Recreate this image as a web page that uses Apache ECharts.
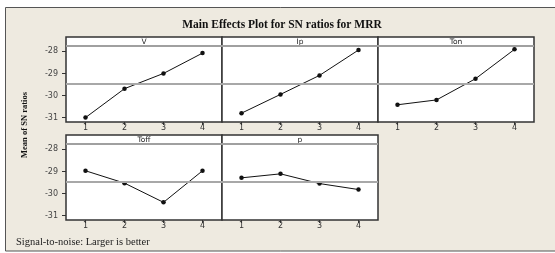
<!DOCTYPE html>
<html>
<head>
<meta charset="utf-8">
<script src="https://cdn.jsdelivr.net/npm/echarts@6/dist/echarts.min.js"></script>
<style>
  html, body { margin: 0; padding: 0; background: #fff; }
  #container { width: 555px; height: 253px; }
</style>
</head>
<body>
<div id="container"></div>
<script>
var levels = ['1', '2', '3', '4'];
var factors = ['V', 'Ip', 'Ton', 'Toff', 'p'];
var V = [-31.0, -29.69, -29.0, -28.08];
var Ip = [-30.8, -29.95, -29.09, -27.94];
var Ton = [-30.42, -30.2, -29.24, -27.91];
var Toff = [-28.97, -29.53, -30.4, -28.97];
var p = [-29.29, -29.11, -29.55, -29.82];
var seriesData = [V, Ip, Ton, Toff, p];
var grandMean = -29.46;
var yTicks = [-31, -30, -29, -28];

var dom = document.getElementById('container');
var myChart = echarts.init(dom, null, { renderer: 'canvas' });

// panel positions (px)
var panels = [
    { left: 66, top: 37 },
    { left: 222, top: 37 },
    { left: 378, top: 37 },
    { left: 66, top: 135 },
    { left: 222, top: 135 }
];
var pw = 156, ph = 85;

var grids = [], xAxes = [], yAxes = [], series = [], titles = [], graphics = [];

graphics.push({
    type: 'rect', z: -10,
    shape: { x: 5.5, y: 7.5, width: 600, height: 243.5 },
    style: { fill: '#eeeae0', stroke: '#555', lineWidth: 1 }
});

titles.push({
    text: 'Main Effects Plot for SN ratios for MRR',
    left: 282, top: 19, textAlign: 'center', padding: 0,
    textStyle: { fontFamily: 'Liberation Serif', fontWeight: 'bold', fontSize: 11.5, color: '#111' }
});
titles.push({
    text: 'Signal-to-noise: Larger is better',
    left: 16, top: 236.5, padding: 0,
    textStyle: { fontFamily: 'Liberation Serif', fontWeight: 'normal', fontSize: 10.5, color: '#222' }
});

panels.forEach(function (pn, i) {
    var leftCol = (i === 0 || i === 3);
    grids.push({
        left: pn.left, top: pn.top, width: pw, height: ph,
        show: true, backgroundColor: '#fff', borderColor: '#333', borderWidth: 1.5,
        containLabel: false
    });
    xAxes.push({
        gridIndex: i, type: 'category', data: levels, boundaryGap: true,
        axisLine: { show: false },
        axisTick: { show: true, alignWithLabel: true, inside: false, length: 3, lineStyle: { color: '#333' } },
        axisLabel: { margin: 2, fontSize: 8, color: '#333', fontFamily: 'DejaVu Sans' },
        splitLine: { show: false }
    });
    yAxes.push({
        gridIndex: i, type: 'value', min: -31.2, max: -27.35,
        axisLine: { show: false },
        axisTick: { show: leftCol, length: 4, customValues: yTicks, lineStyle: { color: '#333' } },
        axisLabel: { show: leftCol, customValues: yTicks, margin: 8, fontSize: 8, color: '#444', fontFamily: 'DejaVu Sans' },
        splitLine: { show: false }
    });
    series.push({
        type: 'line', xAxisIndex: i, yAxisIndex: i,
        data: seriesData[i],
        symbol: 'circle', symbolSize: 4.5,
        lineStyle: { color: '#111', width: 1 },
        itemStyle: { color: '#111' },
        silent: true, animation: false,
        markLine: {
            silent: true, symbol: 'none', label: { show: false },
            lineStyle: { color: '#a8a8a8', width: 2, type: 'solid' },
            data: [{ yAxis: grandMean }]
        }
    });
    // strip header label + divider
    graphics.push({
        type: 'text', z: 100, x: pn.left + pw / 2, y: pn.top + 4.8,
        style: {
            text: factors[i], fill: '#222', font: '7.5px "DejaVu Sans"',
            align: 'center', verticalAlign: 'middle'
        }
    });
    graphics.push({
        type: 'line', z: 100,
        shape: { x1: pn.left, y1: pn.top + 9, x2: pn.left + pw, y2: pn.top + 9 },
        style: { stroke: '#a0a0a0', lineWidth: 2 }
    });
});

graphics.push({
    type: 'text', z: 100, x: 25, y: 125, rotation: Math.PI / 2,
    style: {
        text: 'Mean of SN ratios', fill: '#111',
        font: 'bold 8.5px "Liberation Serif"', align: 'center', verticalAlign: 'middle'
    }
});

myChart.setOption({
    backgroundColor: '#fff',
    animation: false,
    title: titles,
    grid: grids,
    xAxis: xAxes,
    yAxis: yAxes,
    graphic: graphics,
    series: series
});

window.addEventListener('resize', function () {
    myChart.resize();
});
</script>
</body>
</html>
